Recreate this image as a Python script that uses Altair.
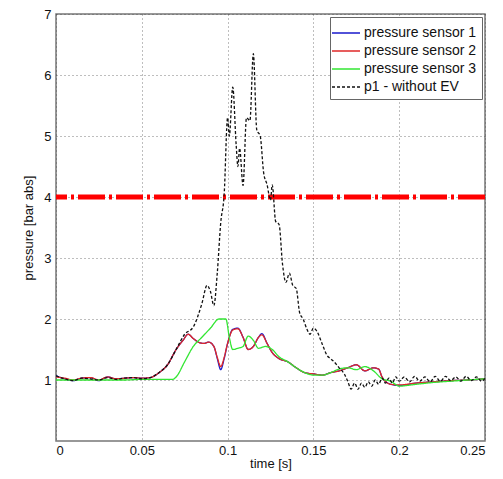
import altair as alt
import pandas as pd

# ---- data ----
series_names = ["pressure sensor 1", "pressure sensor 2", "pressure sensor 3", "p1 - without EV"]
series_colors = ["#1a1acc", "#e02828", "#33e633", "#111111"]

t_s12 = [0, 0.005, 0.01, 0.015, 0.02, 0.025, 0.03, 0.035, 0.04, 0.045, 0.05, 0.055, 0.06, 0.065,
         0.07, 0.074, 0.077, 0.08, 0.083, 0.086, 0.089, 0.092, 0.094, 0.096, 0.098, 0.1, 0.103,
         0.106, 0.109, 0.112, 0.115, 0.118, 0.12, 0.123, 0.126, 0.13, 0.135, 0.14, 0.145, 0.15,
         0.155, 0.16, 0.165, 0.17, 0.175, 0.18, 0.185, 0.188, 0.19, 0.195, 0.2, 0.21, 0.22, 0.23,
         0.24, 0.25]
p_s1 = [1.07, 1.02, 0.99, 1.03, 1.04, 0.99, 1.05, 1.02, 1.03, 1.04, 1.03, 1.04, 1.12, 1.25,
        1.5, 1.65, 1.75, 1.68, 1.62, 1.6, 1.62, 1.55, 1.35, 1.17, 1.35, 1.6, 1.83,
        1.85, 1.7, 1.5, 1.55, 1.7, 1.76, 1.6, 1.45, 1.35, 1.3, 1.2, 1.12, 1.1,
        1.08, 1.12, 1.15, 1.2, 1.25, 1.15, 1.2, 1.18, 1.05, 0.93, 0.91, 0.95, 0.97, 0.99,
        1.0, 1.02]
p_s2 = [1.05, 1.03, 1.0, 1.03, 1.04, 1.0, 1.05, 1.02, 1.03, 1.04, 1.03, 1.04, 1.12, 1.25,
        1.5, 1.65, 1.75, 1.68, 1.62, 1.6, 1.62, 1.55, 1.37, 1.22, 1.37, 1.6, 1.82,
        1.84, 1.7, 1.5, 1.55, 1.7, 1.74, 1.6, 1.45, 1.35, 1.3, 1.2, 1.12, 1.1,
        1.08, 1.12, 1.15, 1.2, 1.25, 1.15, 1.2, 1.18, 1.05, 0.93, 0.92, 0.95, 0.97, 0.99,
        1.0, 1.02]

t_s3 = [0, 0.01, 0.02, 0.03, 0.04, 0.05, 0.06, 0.068, 0.07, 0.075, 0.08, 0.085, 0.09, 0.095,
        0.099, 0.101, 0.103, 0.106, 0.109, 0.112, 0.115, 0.118, 0.122, 0.126, 0.13, 0.135,
        0.14, 0.145, 0.15, 0.155, 0.16, 0.165, 0.17, 0.175, 0.18, 0.185, 0.19, 0.195, 0.2,
        0.21, 0.22, 0.23, 0.24, 0.25]
p_s3 = [1.0, 1.0, 1.0, 1.0, 1.0, 1.01, 1.01, 1.01, 1.05, 1.3, 1.55, 1.7, 1.85, 2.0,
        2.0, 1.7, 1.5, 1.52, 1.55, 1.72, 1.65, 1.52, 1.55, 1.5, 1.38, 1.3,
        1.2, 1.12, 1.08, 1.08, 1.12, 1.18, 1.2, 1.17, 1.22, 1.15, 1.02, 0.98, 0.9,
        0.93, 0.96, 0.98, 1.0, 1.02]

t_p1 = [0, 0.005, 0.01, 0.015, 0.02, 0.025, 0.03, 0.035, 0.04, 0.045, 0.05, 0.055, 0.06, 0.065,
        0.07, 0.075, 0.08, 0.085, 0.088, 0.09, 0.092, 0.094, 0.096, 0.098, 0.1, 0.101, 0.103,
        0.105, 0.106, 0.107, 0.109, 0.111, 0.113, 0.115, 0.117, 0.119, 0.121, 0.123, 0.125,
        0.126, 0.128, 0.13, 0.132, 0.134, 0.136, 0.138, 0.14, 0.142, 0.144, 0.146, 0.148,
        0.15, 0.152, 0.155, 0.158, 0.16, 0.162, 0.165, 0.168, 0.17, 0.172, 0.174, 0.176,
        0.178, 0.18, 0.182, 0.184, 0.186, 0.188, 0.19, 0.192, 0.194, 0.196, 0.198, 0.2,
        0.203, 0.206, 0.209, 0.212, 0.215, 0.218, 0.221, 0.224, 0.227, 0.23, 0.233, 0.236,
        0.239, 0.242, 0.245, 0.248, 0.25]
p_p1 = [1.07, 1.02, 0.99, 1.03, 1.02, 1.0, 1.04, 1.01, 1.03, 1.04, 1.02, 1.04, 1.12, 1.25,
        1.5, 1.75, 1.87, 2.25, 2.55, 2.45, 2.22, 2.76, 3.58, 4.04, 5.3, 5.0, 5.8,
        4.85, 4.5, 4.8, 4.19, 5.3, 5.25, 6.35, 5.1, 5.0, 4.4, 4.2, 3.95,
        4.2, 3.6, 3.55, 2.9, 2.6, 2.75, 2.55, 2.5, 2.1, 2.0, 1.85, 1.75,
        1.85, 1.8, 1.6, 1.4, 1.35, 1.3, 1.2, 1.1, 0.98, 0.85, 0.95, 0.85,
        0.95, 0.88, 0.97, 0.9, 1.0, 0.93, 1.03, 0.95, 1.03, 0.95, 1.05, 0.98,
        1.05, 0.97, 1.06, 0.98, 1.05, 0.97, 1.06, 0.98, 1.06, 0.99, 1.05, 0.98,
        1.06, 0.99, 1.05, 0.98, 1.03]

threshold = [4.0]
x_ticks = [0, 0.05, 0.1, 0.15, 0.2, 0.25]
y_ticks = [1, 2, 3, 4, 5, 6, 7]

# ---- build table ----
rows = []
for name, ts, ps in [(series_names[0], t_s12, p_s1), (series_names[1], t_s12, p_s2),
                     (series_names[2], t_s3, p_s3), (series_names[3], t_p1, p_p1)]:
    for i, (t, p) in enumerate(zip(ts, ps)):
        rows.append({"t": t, "p": p, "series": name, "order": i})
df = pd.DataFrame(rows)

FONT = "Liberation Sans"

x_enc = alt.X("t:Q", title="time [s]",
              scale=alt.Scale(domain=[0, 0.25], nice=False),
              axis=alt.Axis(values=x_ticks, format="~g"))
y_enc = alt.Y("p:Q", title="pressure [bar abs]",
              scale=alt.Scale(domain=[0.5, 7], nice=False),
              axis=alt.Axis(values=y_ticks, format="d"))

leg = alt.Legend(title=None, orient="none", legendX=274, legendY=3,
                 symbolType="M-1.4,0H1.4", symbolSize=400,
                 symbolStrokeWidth=1.5, labelFontSize=14,
                 labelFont=FONT, labelColor="#111", labelOffset=7,
                 rowPadding=0, padding=5,
                 strokeColor="#666", fillColor="white",
                 labelLimit=200)

lines = alt.Chart(df).mark_line(strokeWidth=1.3, clip=True, interpolate="monotone").encode(
    x=x_enc,
    y=y_enc,
    color=alt.Color("series:N", sort=series_names,
                    scale=alt.Scale(domain=series_names, range=series_colors),
                    legend=leg),
    strokeDash=alt.StrokeDash("series:N", sort=series_names,
                              scale=alt.Scale(domain=series_names,
                                              range=[[1, 0], [1, 0], [1, 0], [3, 2]]),
                              legend=leg),
    detail="series:N",
    order="order:Q",
)

rule = alt.Chart(pd.DataFrame({"p": threshold})).mark_rule(
    color="#ff0000", strokeWidth=5, strokeDash=[27, 4, 3, 4]
).encode(y=alt.Y("p:Q"))

chart = alt.layer(rule, lines).properties(
    width=429, height=427,
    autosize=alt.AutoSizeParams(type="none"),
    padding={"left": 48, "top": 6, "right": 10, "bottom": 30},
).configure_view(
    stroke="#777", strokeWidth=1.5
).configure_axis(
    labelFont=FONT, titleFont=FONT, labelFontSize=13, titleFontSize=13,
    labelColor="#111", titleColor="#111", titleFontWeight="normal",
    grid=True, gridColor="#444", gridDash=[1, 3], gridOpacity=0.7, gridWidth=1,
    domain=False, ticks=False, labelPadding=5,
).configure_axisY(
    titlePadding=8,
).configure_axisX(
    titlePadding=0, labelPadding=3,
)

chart.save("out.html", embed_options={"renderer": "svg", "actions": False})
